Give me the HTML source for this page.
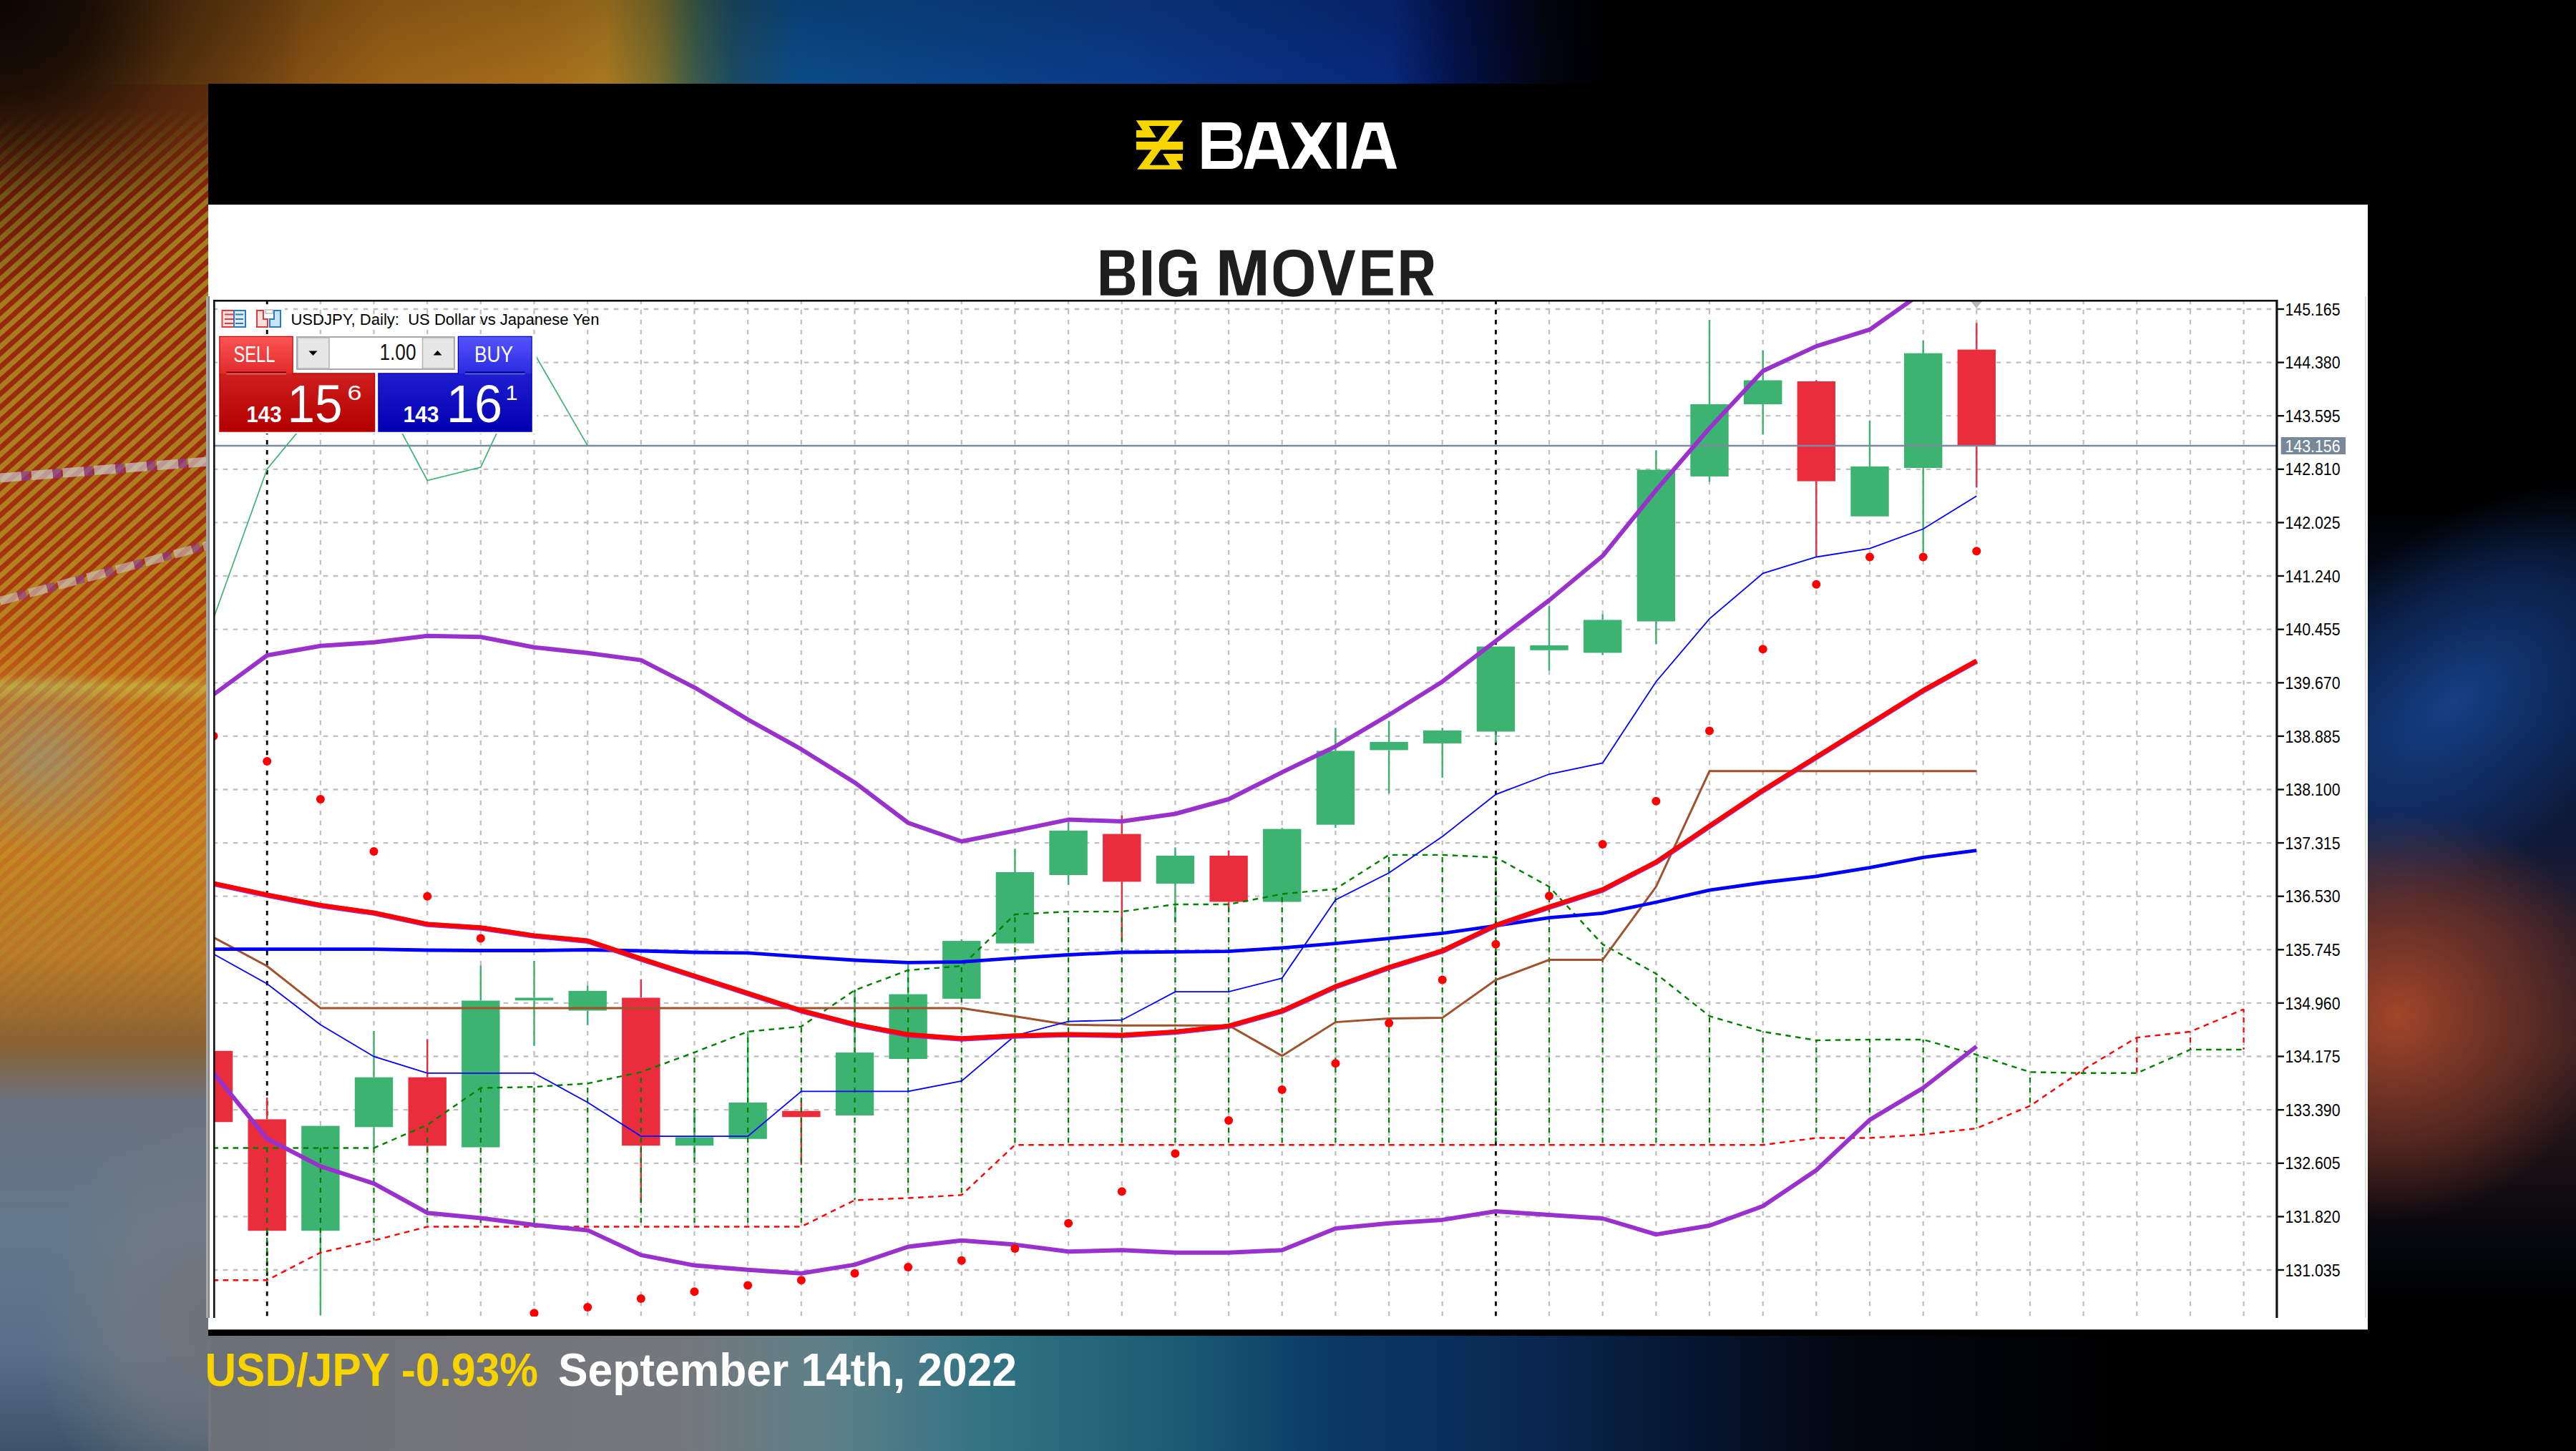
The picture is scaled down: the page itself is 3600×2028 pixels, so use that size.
<!DOCTYPE html>
<html><head><meta charset="utf-8"><title>BIG MOVER USD/JPY</title>
<style>
html,body{margin:0;padding:0;width:3600px;height:2028px;overflow:hidden;background:#000;}

#bg{position:absolute;left:0;top:0;width:3600px;height:2028px;overflow:hidden;background:#000;}
#bg div{position:absolute;}

svg text{font-family:"Liberation Sans",sans-serif;}
</style></head>
<body>
<div id="bg"></div>
<svg width="3600" height="2028" viewBox="0 0 3600 2028" style="position:absolute;left:0;top:0">
<defs>
<linearGradient id="bgL" gradientUnits="userSpaceOnUse" x1="0" y1="0" x2="0" y2="2028"><stop offset="0" stop-color="#6a3410"/><stop offset="0.13" stop-color="#7a3810"/><stop offset="0.25" stop-color="#904214"/><stop offset="0.36" stop-color="#a45018"/><stop offset="0.42" stop-color="#b86418"/><stop offset="0.465" stop-color="#c8741c"/><stop offset="0.473" stop-color="#c8b040"/><stop offset="0.485" stop-color="#c87c22"/><stop offset="0.58" stop-color="#c88424"/><stop offset="0.66" stop-color="#b87c2a"/><stop offset="0.72" stop-color="#8a6232"/><stop offset="0.76" stop-color="#6a7280"/><stop offset="0.85" stop-color="#62788c"/><stop offset="0.93" stop-color="#587088"/><stop offset="1" stop-color="#3c546a"/></linearGradient>
<radialGradient id="bgDark" gradientUnits="userSpaceOnUse" cx="0" cy="0" r="430"><stop offset="0" stop-color="#080402" stop-opacity="0.95"/><stop offset="0.3" stop-color="#080402" stop-opacity="0.8"/><stop offset="0.6" stop-color="#080402" stop-opacity="0.35"/><stop offset="1" stop-color="#080402" stop-opacity="0"/></radialGradient>
<pattern id="stripes" patternUnits="userSpaceOnUse" width="14" height="14" patternTransform="rotate(-42)"><rect x="0" y="0" width="14" height="7" fill="#a01a08"/><rect x="0" y="7" width="14" height="7" fill="#b8a428"/></pattern>
<linearGradient id="stripeMaskG" gradientUnits="userSpaceOnUse" x1="0" y1="150" x2="0" y2="1450"><stop offset="0" stop-color="#fff" stop-opacity="0"/><stop offset="0.1" stop-color="#fff" stop-opacity="0.65"/><stop offset="0.5" stop-color="#fff" stop-opacity="0.55"/><stop offset="0.62" stop-color="#fff" stop-opacity="0.25"/><stop offset="1" stop-color="#fff" stop-opacity="0"/></linearGradient>
<mask id="stripeMask" maskUnits="userSpaceOnUse" x="0" y="0" width="291" height="2028"><rect x="0" y="150" width="291" height="1300" fill="url(#stripeMaskG)"/></mask>
<linearGradient id="bgT" gradientUnits="userSpaceOnUse" x1="0" y1="0" x2="3600" y2="0"><stop offset="0" stop-color="#6a3810"/><stop offset="0.11" stop-color="#7e4c12"/><stop offset="0.15" stop-color="#986016"/><stop offset="0.21" stop-color="#a46c1a"/><stop offset="0.235" stop-color="#a87820"/><stop offset="0.255" stop-color="#7a6c2c"/><stop offset="0.27" stop-color="#3a5a4a"/><stop offset="0.285" stop-color="#1a4a64"/><stop offset="0.31" stop-color="#0a4a86"/><stop offset="0.44" stop-color="#0a3a88"/><stop offset="0.54" stop-color="#08287a"/><stop offset="0.565" stop-color="#03124a"/><stop offset="0.60" stop-color="#02040f"/><stop offset="0.625" stop-color="#000"/></linearGradient>
<linearGradient id="bgTdark" gradientUnits="userSpaceOnUse" x1="0" y1="0" x2="0" y2="117"><stop offset="0" stop-color="#000" stop-opacity="0.15"/><stop offset="1" stop-color="#000" stop-opacity="0"/></linearGradient>
<linearGradient id="bgB" gradientUnits="userSpaceOnUse" x1="0" y1="0" x2="3600" y2="0"><stop offset="0" stop-color="#64707a"/><stop offset="0.08" stop-color="#6a7076"/><stop offset="0.12" stop-color="#6e7278"/><stop offset="0.19" stop-color="#74747a"/><stop offset="0.265" stop-color="#74787c"/><stop offset="0.32" stop-color="#5e8088"/><stop offset="0.39" stop-color="#2e7282"/><stop offset="0.46" stop-color="#1a5a72"/><stop offset="0.515" stop-color="#0a3a66"/><stop offset="0.585" stop-color="#0a2a55"/><stop offset="0.64" stop-color="#061a38"/><stop offset="0.72" stop-color="#03060f"/><stop offset="0.83" stop-color="#000"/></linearGradient>
<linearGradient id="bgR" gradientUnits="userSpaceOnUse" x1="0" y1="0" x2="0" y2="2028"><stop offset="0" stop-color="#000"/><stop offset="0.35" stop-color="#000"/><stop offset="0.40" stop-color="#040a18"/><stop offset="0.5" stop-color="#081a3a"/><stop offset="0.58" stop-color="#101a38"/><stop offset="0.64" stop-color="#2a1c28"/><stop offset="0.72" stop-color="#341e20"/><stop offset="0.8" stop-color="#1a1014"/><stop offset="0.86" stop-color="#04060c"/><stop offset="0.9" stop-color="#000"/></linearGradient>
<radialGradient id="bgRo" gradientUnits="userSpaceOnUse" cx="3350" cy="1420" r="300" gradientTransform="translate(3350 1420) rotate(-25) scale(1.0 0.95) translate(-3350 -1420)"><stop offset="0" stop-color="#b04a2a" stop-opacity="0.9"/><stop offset="0.6" stop-color="#8a3c28" stop-opacity="0.5"/><stop offset="1" stop-color="#8a3c28" stop-opacity="0"/></radialGradient>
<radialGradient id="bgRb" gradientUnits="userSpaceOnUse" cx="3430" cy="980" r="300" gradientTransform="translate(3430 980) rotate(-40) scale(1.3 0.75) translate(-3430 -980)"><stop offset="0" stop-color="#1a4a9a" stop-opacity="0.8"/><stop offset="0.6" stop-color="#123a80" stop-opacity="0.45"/><stop offset="1" stop-color="#123a80" stop-opacity="0"/></radialGradient>
</defs>
<rect x="0" y="0" width="3600" height="2028" fill="#000"/>
<rect x="0" y="0" width="295" height="2028" fill="url(#bgL)"/>
<rect x="0" y="0" width="295" height="1500" fill="url(#stripes)" mask="url(#stripeMask)"/>
<rect x="0" y="0" width="3600" height="118" fill="url(#bgT)"/>
<rect x="0" y="0" width="3600" height="118" fill="url(#bgTdark)"/>
<rect x="0" y="0" width="700" height="500" fill="url(#bgDark)"/>
<rect x="291" y="1860" width="3309" height="168" fill="url(#bgB)"/>
<rect x="3300" y="0" width="300" height="2028" fill="url(#bgR)"/>
<rect x="3300" y="600" width="300" height="1300" fill="url(#bgRb)"/>
<rect x="3300" y="600" width="300" height="1300" fill="url(#bgRo)"/>
<defs><radialGradient id="gp1" gradientUnits="userSpaceOnUse" cx="60" cy="1060" r="140"><stop offset="0" stop-color="#8a9a92" stop-opacity="0.55"/><stop offset="1" stop-color="#8a9a92" stop-opacity="0"/></radialGradient><radialGradient id="gp2" gradientUnits="userSpaceOnUse" cx="291" cy="1850" r="300" gradientTransform="translate(291 1850) scale(0.8 1.0) translate(-291 -1850)"><stop offset="0" stop-color="#6c7278" stop-opacity="0.95"/><stop offset="0.5" stop-color="#7a7c80" stop-opacity="0.55"/><stop offset="1" stop-color="#7a7c80" stop-opacity="0"/></radialGradient></defs>
<rect x="0" y="900" width="295" height="320" fill="url(#gp1)"/>
<rect x="0" y="1500" width="295" height="528" fill="url(#gp2)"/>
<path d="M0 668 L291 645" stroke="#d0d0dc" stroke-width="13" stroke-dasharray="30 14" opacity="0.65"/>
<path d="M0 668 L291 645" stroke="#8a3aa8" stroke-width="13" stroke-dasharray="12 32" stroke-dashoffset="-30" opacity="0.65"/>
<path d="M0 840 L291 762" stroke="#d0d0dc" stroke-width="12" stroke-dasharray="26 16" opacity="0.55"/>
<path d="M0 840 L291 762" stroke="#8a3aa8" stroke-width="12" stroke-dasharray="12 30" stroke-dashoffset="-26" opacity="0.55"/>
<rect x="291" y="117" width="3018" height="169" fill="#000"/>
<rect x="291" y="286" width="3018" height="1572.5" fill="#fff"/>
<rect x="291" y="1858.5" width="3018" height="8.5" fill="#000"/>
<rect x="288" y="414" width="3" height="1428" fill="#a8a8a8"/>
<rect x="291" y="414" width="2" height="1428" fill="#808080"/>
<rect x="3305" y="414" width="2" height="1428" fill="#e0e0e0"/>
<g transform="translate(1580,160) scale(0.058565)" fill="#f7d600">
<path d="M130,140 L1250,140 L870,655 L650,655 L925,275 L435,275 L610,550 L135,550 L135,375 L285,375 Z"/>
<rect x="135" y="648" width="1115" height="194"/>
<path d="M505,835 L720,835 L455,1210 L940,1210 L770,940 L1245,940 L1245,1105 L1095,1105 L1230,1310 L155,1310 Z"/>
</g>
<g transform="translate(1675,165) scale(0.058231)" fill="#fff" fill-rule="evenodd">
<path d="M80,105 L740,105 C900,105 1025,200 1025,380 C1025,500 960,600 870,640 C990,690 1060,790 1060,900 C1060,1100 930,1220 760,1220 L80,1220 Z M290,290 L740,290 Q810,290 810,360 L810,480 Q810,550 740,550 L290,550 Z M290,740 L770,740 Q840,740 840,810 L840,960 Q840,1030 770,1030 L290,1030 Z"/>
<path d="M1085,1220 L1410,105 L1855,105 L2180,1220 L1945,1220 L1885,985 L1375,985 L1305,1220 Z M1445,765 L1815,765 L1680,310 L1570,310 Z"/>
</g>
<g transform="translate(1800,165) scale(0.062112)" fill="#fff" fill-rule="evenodd">
<path d="M65,100 L300,100 L510,420 L545,420 L755,100 L990,100 L675,620 L990,1140 L745,1140 L545,820 L510,820 L315,1140 L70,1140 L385,620 Z"/>
<rect x="1100" y="100" width="215" height="1040"/>
<path d="M1420,1140 L1730,100 L2140,100 L2450,1140 L2235,1140 L2170,920 L1695,920 L1635,1140 Z M1755,715 L2110,715 L1990,290 L1880,290 Z"/>
</g>
<g transform="translate(1520,140) scale(0.199840)" fill="#1e1e1e" fill-rule="evenodd">
<path d="M90,1050 H235 Q325,1050 325,1130 Q325,1185 270,1205 Q330,1225 330,1285 Q330,1365 240,1365 H90 Z M150,1095 H238 Q260,1095 260,1117 V1158 Q260,1180 238,1180 H150 Z M150,1228 H245 Q268,1228 268,1250 V1293 Q268,1315 245,1315 H150 Z"/>
<rect x="385" y="1050" width="60" height="315"/>
<path d="M630,1045 C710,1045 755,1090 757,1145 L697,1145 C695,1115 670,1095 630,1095 C590,1095 562,1120 562,1160 L562,1260 C562,1300 590,1322 632,1322 C675,1322 705,1295 705,1255 L705,1240 L635,1240 L635,1195 L762,1195 L762,1365 L705,1365 L705,1335 C690,1360 665,1375 625,1375 C550,1375 500,1330 500,1255 L500,1165 C500,1090 550,1045 630,1045 Z"/>
<path d="M925,1365 V1050 H1020 L1083,1300 L1148,1050 H1245 V1365 H1187 V1115 L1122,1365 H1045 L982,1115 V1365 Z"/>
<path d="M1440,1045 C1530,1045 1580,1100 1580,1180 V1240 C1580,1320 1530,1375 1440,1375 C1350,1375 1300,1320 1300,1240 V1180 C1300,1100 1350,1045 1440,1045 Z M1440,1095 C1390,1095 1360,1125 1360,1170 V1250 C1360,1295 1390,1322 1440,1322 C1490,1322 1518,1295 1518,1250 V1170 C1518,1125 1490,1095 1440,1095 Z"/>
<path d="M1610,1050 H1675 L1742,1295 L1810,1050 H1872 L1775,1365 H1708 Z"/>
<path d="M1920,1050 H2135 V1100 H1978 V1180 H2112 V1230 H1978 V1315 H2135 V1365 H1920 Z"/>
<path d="M2190,1050 H2330 Q2418,1050 2418,1145 Q2418,1220 2350,1240 L2420,1365 H2352 L2290,1245 H2250 V1365 H2190 Z M2250,1100 H2322 Q2355,1100 2355,1133 V1162 Q2355,1195 2322,1195 H2250 Z"/>
</g>
<defs><clipPath id="ca"><rect x="300.0" y="420.0" width="2881.0" height="1420.0"/></clipPath></defs>
<g clip-path="url(#ca)">
<path d="M300.0 432.0H3181.0 M300.0 506.6H3181.0 M300.0 581.2H3181.0 M300.0 655.8H3181.0 M300.0 730.4H3181.0 M300.0 805.0H3181.0 M300.0 879.7H3181.0 M300.0 954.3H3181.0 M300.0 1028.9H3181.0 M300.0 1103.5H3181.0 M300.0 1178.1H3181.0 M300.0 1252.7H3181.0 M300.0 1327.3H3181.0 M300.0 1401.9H3181.0 M300.0 1476.5H3181.0 M300.0 1551.2H3181.0 M300.0 1625.8H3181.0 M300.0 1700.4H3181.0 M300.0 1775.0H3181.0" stroke="#c0c0c0" stroke-width="2.3" stroke-dasharray="6.6 7.4" stroke-dashoffset="2.3" fill="none"/>
<path d="M373.2 420.0V1840.0 M447.9 420.0V1840.0 M522.5 420.0V1840.0 M597.2 420.0V1840.0 M671.8 420.0V1840.0 M746.5 420.0V1840.0 M821.2 420.0V1840.0 M895.8 420.0V1840.0 M970.5 420.0V1840.0 M1045.1 420.0V1840.0 M1119.8 420.0V1840.0 M1194.5 420.0V1840.0 M1269.1 420.0V1840.0 M1343.8 420.0V1840.0 M1418.4 420.0V1840.0 M1493.1 420.0V1840.0 M1567.8 420.0V1840.0 M1642.4 420.0V1840.0 M1717.1 420.0V1840.0 M1791.7 420.0V1840.0 M1866.4 420.0V1840.0 M1941.1 420.0V1840.0 M2015.7 420.0V1840.0 M2090.4 420.0V1840.0 M2165.0 420.0V1840.0 M2239.7 420.0V1840.0 M2314.4 420.0V1840.0 M2389.0 420.0V1840.0 M2463.7 420.0V1840.0 M2538.3 420.0V1840.0 M2613.0 420.0V1840.0 M2687.7 420.0V1840.0 M2762.3 420.0V1840.0 M2837.0 420.0V1840.0 M2911.6 420.0V1840.0 M2986.3 420.0V1840.0 M3061.0 420.0V1840.0 M3135.6 420.0V1840.0" stroke="#c0c0c0" stroke-width="2.3" stroke-dasharray="6.2 7.8" stroke-dashoffset="1" fill="none"/>
<path d="M373.2 420.0V1840.0 M2090.4 420.0V1840.0" stroke="#000" stroke-width="2.8" stroke-dasharray="6.2 7.8" stroke-dashoffset="1" fill="none"/>
<rect x="271.8" y="1468.8" width="53.4" height="99.5" fill="#e92d3c"/>
<rect x="372.0" y="1534.0" width="2.4" height="30.4" fill="#e92d3c"/>
<rect x="346.5" y="1564.4" width="53.4" height="155.8" fill="#e92d3c"/>
<rect x="446.7" y="1720.2" width="2.4" height="117.8" fill="#3cb371"/>
<rect x="421.2" y="1573.6" width="53.4" height="146.6" fill="#3cb371"/>
<rect x="521.3" y="1441.0" width="2.4" height="64.7" fill="#3cb371"/>
<rect x="521.3" y="1575.3" width="2.4" height="28.7" fill="#3cb371"/>
<rect x="495.8" y="1505.7" width="53.4" height="69.6" fill="#3cb371"/>
<rect x="596.0" y="1452.3" width="2.4" height="53.4" fill="#e92d3c"/>
<rect x="596.0" y="1601.4" width="2.4" height="9.6" fill="#e92d3c"/>
<rect x="570.5" y="1505.7" width="53.4" height="95.7" fill="#e92d3c"/>
<rect x="670.6" y="1349.3" width="2.4" height="49.2" fill="#3cb371"/>
<rect x="645.1" y="1398.5" width="53.4" height="205.0" fill="#3cb371"/>
<rect x="745.3" y="1343.0" width="2.4" height="51.5" fill="#3cb371"/>
<rect x="745.3" y="1398.3" width="2.4" height="63.5" fill="#3cb371"/>
<rect x="719.8" y="1394.5" width="53.4" height="3.8" fill="#3cb371"/>
<rect x="820.0" y="1377.4" width="2.4" height="7.5" fill="#3cb371"/>
<rect x="820.0" y="1412.5" width="2.4" height="20.0" fill="#3cb371"/>
<rect x="794.5" y="1384.9" width="53.4" height="27.6" fill="#3cb371"/>
<rect x="894.6" y="1368.7" width="2.4" height="25.8" fill="#e92d3c"/>
<rect x="894.6" y="1601.2" width="2.4" height="79.8" fill="#e92d3c"/>
<rect x="869.1" y="1394.5" width="53.4" height="206.7" fill="#e92d3c"/>
<rect x="969.3" y="1552.0" width="2.4" height="37.4" fill="#3cb371"/>
<rect x="969.3" y="1601.2" width="2.4" height="18.8" fill="#3cb371"/>
<rect x="943.8" y="1589.4" width="53.4" height="11.8" fill="#3cb371"/>
<rect x="1043.9" y="1444.0" width="2.4" height="97.0" fill="#3cb371"/>
<rect x="1018.4" y="1541.0" width="53.4" height="50.8" fill="#3cb371"/>
<rect x="1118.6" y="1538.0" width="2.4" height="14.7" fill="#e92d3c"/>
<rect x="1118.6" y="1561.3" width="2.4" height="66.4" fill="#e92d3c"/>
<rect x="1093.1" y="1552.7" width="53.4" height="8.6" fill="#e92d3c"/>
<rect x="1193.3" y="1383.0" width="2.4" height="88.1" fill="#3cb371"/>
<rect x="1167.8" y="1471.1" width="53.4" height="87.9" fill="#3cb371"/>
<rect x="1267.9" y="1348.1" width="2.4" height="41.5" fill="#3cb371"/>
<rect x="1242.4" y="1389.6" width="53.4" height="90.4" fill="#3cb371"/>
<rect x="1342.6" y="1312.8" width="2.4" height="2.3" fill="#3cb371"/>
<rect x="1317.1" y="1315.1" width="53.4" height="80.8" fill="#3cb371"/>
<rect x="1417.2" y="1186.2" width="2.4" height="32.8" fill="#3cb371"/>
<rect x="1391.7" y="1219.0" width="53.4" height="99.6" fill="#3cb371"/>
<rect x="1491.9" y="1148.7" width="2.4" height="12.2" fill="#3cb371"/>
<rect x="1491.9" y="1223.0" width="2.4" height="13.6" fill="#3cb371"/>
<rect x="1466.4" y="1160.9" width="53.4" height="62.1" fill="#3cb371"/>
<rect x="1566.6" y="1139.4" width="2.4" height="26.2" fill="#e92d3c"/>
<rect x="1566.6" y="1232.4" width="2.4" height="82.7" fill="#e92d3c"/>
<rect x="1541.1" y="1165.6" width="53.4" height="66.8" fill="#e92d3c"/>
<rect x="1641.2" y="1184.4" width="2.4" height="11.6" fill="#3cb371"/>
<rect x="1641.2" y="1235.0" width="2.4" height="54.0" fill="#3cb371"/>
<rect x="1615.7" y="1196.0" width="53.4" height="39.0" fill="#3cb371"/>
<rect x="1715.9" y="1188.6" width="2.4" height="7.4" fill="#e92d3c"/>
<rect x="1715.9" y="1260.5" width="2.4" height="13.6" fill="#e92d3c"/>
<rect x="1690.4" y="1196.0" width="53.4" height="64.5" fill="#e92d3c"/>
<rect x="1790.5" y="1157.0" width="2.4" height="1.6" fill="#3cb371"/>
<rect x="1765.0" y="1158.6" width="53.4" height="101.9" fill="#3cb371"/>
<rect x="1865.2" y="1017.3" width="2.4" height="32.1" fill="#3cb371"/>
<rect x="1865.2" y="1152.7" width="2.4" height="4.3" fill="#3cb371"/>
<rect x="1839.7" y="1049.4" width="53.4" height="103.3" fill="#3cb371"/>
<rect x="1939.9" y="1008.0" width="2.4" height="29.0" fill="#3cb371"/>
<rect x="1939.9" y="1048.4" width="2.4" height="60.4" fill="#3cb371"/>
<rect x="1914.4" y="1037.0" width="53.4" height="11.4" fill="#3cb371"/>
<rect x="2014.5" y="1017.3" width="2.4" height="3.7" fill="#3cb371"/>
<rect x="2014.5" y="1039.0" width="2.4" height="48.0" fill="#3cb371"/>
<rect x="1989.0" y="1021.0" width="53.4" height="18.0" fill="#3cb371"/>
<rect x="2089.2" y="1022.5" width="2.4" height="15.5" fill="#3cb371"/>
<rect x="2063.7" y="903.6" width="53.4" height="118.9" fill="#3cb371"/>
<rect x="2163.8" y="846.7" width="2.4" height="55.3" fill="#3cb371"/>
<rect x="2163.8" y="908.8" width="2.4" height="28.4" fill="#3cb371"/>
<rect x="2138.3" y="902.0" width="53.4" height="6.8" fill="#3cb371"/>
<rect x="2238.5" y="858.6" width="2.4" height="7.8" fill="#3cb371"/>
<rect x="2238.5" y="912.4" width="2.4" height="3.1" fill="#3cb371"/>
<rect x="2213.0" y="866.4" width="53.4" height="46.0" fill="#3cb371"/>
<rect x="2313.2" y="629.7" width="2.4" height="26.9" fill="#3cb371"/>
<rect x="2313.2" y="868.5" width="2.4" height="31.5" fill="#3cb371"/>
<rect x="2287.7" y="656.6" width="53.4" height="211.9" fill="#3cb371"/>
<rect x="2387.8" y="447.2" width="2.4" height="117.8" fill="#3cb371"/>
<rect x="2387.8" y="665.9" width="2.4" height="7.7" fill="#3cb371"/>
<rect x="2362.3" y="565.0" width="53.4" height="100.9" fill="#3cb371"/>
<rect x="2462.5" y="490.1" width="2.4" height="41.4" fill="#3cb371"/>
<rect x="2462.5" y="565.0" width="2.4" height="42.4" fill="#3cb371"/>
<rect x="2437.0" y="531.5" width="53.4" height="33.5" fill="#3cb371"/>
<rect x="2537.1" y="531.5" width="2.4" height="1.5" fill="#e92d3c"/>
<rect x="2537.1" y="672.6" width="2.4" height="105.4" fill="#e92d3c"/>
<rect x="2511.6" y="533.0" width="53.4" height="139.6" fill="#e92d3c"/>
<rect x="2611.8" y="588.3" width="2.4" height="63.6" fill="#3cb371"/>
<rect x="2586.3" y="651.9" width="53.4" height="69.8" fill="#3cb371"/>
<rect x="2686.5" y="476.2" width="2.4" height="17.5" fill="#3cb371"/>
<rect x="2686.5" y="654.0" width="2.4" height="117.8" fill="#3cb371"/>
<rect x="2661.0" y="493.7" width="53.4" height="160.3" fill="#3cb371"/>
<rect x="2761.1" y="451.3" width="2.4" height="37.3" fill="#e92d3c"/>
<rect x="2761.1" y="623.0" width="2.4" height="58.4" fill="#e92d3c"/>
<rect x="2735.6" y="488.6" width="53.4" height="134.4" fill="#e92d3c"/>
<path d="M298.5 1604.5V1789.3" stroke="#008000" stroke-width="2.2" stroke-dasharray="7 7" stroke-dashoffset="0.40" fill="none"/>
<path d="M373.2 1604.5V1789.3" stroke="#008000" stroke-width="2.2" stroke-dasharray="7 7" stroke-dashoffset="0.40" fill="none"/>
<path d="M447.9 1604.5V1750.7" stroke="#008000" stroke-width="2.2" stroke-dasharray="7 7" stroke-dashoffset="0.40" fill="none"/>
<path d="M522.5 1604.5V1733.8" stroke="#008000" stroke-width="2.2" stroke-dasharray="7 7" stroke-dashoffset="0.40" fill="none"/>
<path d="M597.2 1572.2V1714.5" stroke="#008000" stroke-width="2.2" stroke-dasharray="7 7" stroke-dashoffset="10.10" fill="none"/>
<path d="M671.8 1520.6V1714.5" stroke="#008000" stroke-width="2.2" stroke-dasharray="7 7" stroke-dashoffset="0.50" fill="none"/>
<path d="M746.5 1519.1V1714.5" stroke="#008000" stroke-width="2.2" stroke-dasharray="7 7" stroke-dashoffset="13.00" fill="none"/>
<path d="M821.2 1514.3V1714.5" stroke="#008000" stroke-width="2.2" stroke-dasharray="7 7" stroke-dashoffset="8.20" fill="none"/>
<path d="M895.8 1498.4V1714.5" stroke="#008000" stroke-width="2.2" stroke-dasharray="7 7" stroke-dashoffset="6.30" fill="none"/>
<path d="M970.5 1470.9V1714.5" stroke="#008000" stroke-width="2.2" stroke-dasharray="7 7" stroke-dashoffset="6.80" fill="none"/>
<path d="M1045.1 1441.9V1714.5" stroke="#008000" stroke-width="2.2" stroke-dasharray="7 7" stroke-dashoffset="5.80" fill="none"/>
<path d="M1119.8 1434.7V1714.5" stroke="#008000" stroke-width="2.2" stroke-dasharray="7 7" stroke-dashoffset="12.60" fill="none"/>
<path d="M1194.5 1384.0V1677.4" stroke="#008000" stroke-width="2.2" stroke-dasharray="7 7" stroke-dashoffset="3.90" fill="none"/>
<path d="M1269.1 1356.0V1674.5" stroke="#008000" stroke-width="2.2" stroke-dasharray="7 7" stroke-dashoffset="3.90" fill="none"/>
<path d="M1343.8 1350.2V1670.2" stroke="#008000" stroke-width="2.2" stroke-dasharray="7 7" stroke-dashoffset="12.10" fill="none"/>
<path d="M1418.4 1278.0V1600.2" stroke="#008000" stroke-width="2.2" stroke-dasharray="7 7" stroke-dashoffset="9.90" fill="none"/>
<path d="M1493.1 1274.1V1600.2" stroke="#008000" stroke-width="2.2" stroke-dasharray="7 7" stroke-dashoffset="6.00" fill="none"/>
<path d="M1567.8 1274.1V1600.2" stroke="#008000" stroke-width="2.2" stroke-dasharray="7 7" stroke-dashoffset="6.00" fill="none"/>
<path d="M1642.4 1264.0V1600.2" stroke="#008000" stroke-width="2.2" stroke-dasharray="7 7" stroke-dashoffset="9.90" fill="none"/>
<path d="M1717.1 1264.0V1600.2" stroke="#008000" stroke-width="2.2" stroke-dasharray="7 7" stroke-dashoffset="9.90" fill="none"/>
<path d="M1791.7 1249.5V1600.2" stroke="#008000" stroke-width="2.2" stroke-dasharray="7 7" stroke-dashoffset="9.40" fill="none"/>
<path d="M1866.4 1242.5V1600.2" stroke="#008000" stroke-width="2.2" stroke-dasharray="7 7" stroke-dashoffset="2.40" fill="none"/>
<path d="M1941.1 1194.9V1600.2" stroke="#008000" stroke-width="2.2" stroke-dasharray="7 7" stroke-dashoffset="10.80" fill="none"/>
<path d="M2015.7 1194.9V1600.2" stroke="#008000" stroke-width="2.2" stroke-dasharray="7 7" stroke-dashoffset="10.80" fill="none"/>
<path d="M2090.4 1198.3V1600.2" stroke="#008000" stroke-width="2.2" stroke-dasharray="7 7" stroke-dashoffset="0.20" fill="none"/>
<path d="M2165.0 1239.3V1600.2" stroke="#008000" stroke-width="2.2" stroke-dasharray="7 7" stroke-dashoffset="13.20" fill="none"/>
<path d="M2239.7 1319.8V1600.2" stroke="#008000" stroke-width="2.2" stroke-dasharray="7 7" stroke-dashoffset="9.70" fill="none"/>
<path d="M2314.4 1360.9V1600.2" stroke="#008000" stroke-width="2.2" stroke-dasharray="7 7" stroke-dashoffset="8.80" fill="none"/>
<path d="M2389.0 1420.2V1600.2" stroke="#008000" stroke-width="2.2" stroke-dasharray="7 7" stroke-dashoffset="12.10" fill="none"/>
<path d="M2463.7 1441.9V1600.2" stroke="#008000" stroke-width="2.2" stroke-dasharray="7 7" stroke-dashoffset="5.80" fill="none"/>
<path d="M2538.3 1454.0V1590.5" stroke="#008000" stroke-width="2.2" stroke-dasharray="7 7" stroke-dashoffset="3.90" fill="none"/>
<path d="M2613.0 1453.0V1590.5" stroke="#008000" stroke-width="2.2" stroke-dasharray="7 7" stroke-dashoffset="2.90" fill="none"/>
<path d="M2687.7 1453.0V1585.7" stroke="#008000" stroke-width="2.2" stroke-dasharray="7 7" stroke-dashoffset="2.90" fill="none"/>
<path d="M2762.3 1474.2V1577.0" stroke="#008000" stroke-width="2.2" stroke-dasharray="7 7" stroke-dashoffset="10.10" fill="none"/>
<path d="M2837.0 1498.4V1545.7" stroke="#008000" stroke-width="2.2" stroke-dasharray="7 7" stroke-dashoffset="6.30" fill="none"/>
<path d="M2911.6 1495.0V1499.8" stroke="#ff0000" stroke-width="2.2" stroke-dasharray="7 7" stroke-dashoffset="2.90" fill="none"/>
<path d="M2986.3 1450.1V1499.8" stroke="#ff0000" stroke-width="2.2" stroke-dasharray="7 7" stroke-dashoffset="14.00" fill="none"/>
<path d="M3061.0 1441.9V1467.0" stroke="#ff0000" stroke-width="2.2" stroke-dasharray="7 7" stroke-dashoffset="5.80" fill="none"/>
<path d="M3135.6 1410.6V1467.0" stroke="#ff0000" stroke-width="2.2" stroke-dasharray="7 7" stroke-dashoffset="2.50" fill="none"/>
<polyline points="298.5,1604.5 373.2,1604.5 447.9,1604.5 522.5,1604.5 597.2,1572.2 671.8,1520.6 746.5,1519.1 821.2,1514.3 895.8,1498.4 970.5,1470.9 1045.1,1441.9 1119.8,1434.7 1194.5,1384.0 1269.1,1356.0 1343.8,1350.2 1418.4,1278.0 1493.1,1274.1 1567.8,1274.1 1642.4,1264.0 1717.1,1264.0 1791.7,1249.5 1866.4,1242.5 1941.1,1194.9 2015.7,1194.9 2090.4,1198.3 2165.0,1239.3 2239.7,1319.8 2314.4,1360.9 2389.0,1420.2 2463.7,1441.9 2538.3,1454.0 2613.0,1453.0 2687.7,1453.0 2762.3,1474.2 2837.0,1498.4 2911.6,1499.8 2986.3,1499.8 3061.0,1467.0 3135.6,1467.0" stroke="#008000" stroke-width="2.4" stroke-dasharray="7.5 6.5" stroke-dashoffset="0.9" fill="none"/>
<polyline points="298.5,1789.3 373.2,1789.3 447.9,1750.7 522.5,1733.8 597.2,1714.5 671.8,1714.5 746.5,1714.5 821.2,1714.5 895.8,1714.5 970.5,1714.5 1045.1,1714.5 1119.8,1714.5 1194.5,1677.4 1269.1,1674.5 1343.8,1670.2 1418.4,1600.2 1493.1,1600.2 1567.8,1600.2 1642.4,1600.2 1717.1,1600.2 1791.7,1600.2 1866.4,1600.2 1941.1,1600.2 2015.7,1600.2 2090.4,1600.2 2165.0,1600.2 2239.7,1600.2 2314.4,1600.2 2389.0,1600.2 2463.7,1600.2 2538.3,1590.5 2613.0,1590.5 2687.7,1585.7 2762.3,1577.0 2837.0,1545.7 2911.6,1495.0 2986.3,1450.1 3061.0,1441.9 3135.6,1410.6" stroke="#ff0000" stroke-width="2.4" stroke-dasharray="7.5 6.5" stroke-dashoffset="0.9" fill="none"/>
<path d="M300.0 623H3181.0" stroke="#7a899c" stroke-width="2.6"/>
<polyline points="298.5,864.0 373.2,655.6 447.9,565.0 522.5,531.5 597.2,671.5 671.8,653.0 746.5,493.7 821.2,622.9" stroke="#3cb371" stroke-width="1.7" fill="none"/>
<polyline points="298.5,1310.2 373.2,1350.2 447.9,1409.1 522.5,1409.1 597.2,1409.1 671.8,1409.1 746.5,1409.1 821.2,1409.1 895.8,1409.1 970.5,1409.1 1045.1,1409.1 1119.8,1409.1 1194.5,1409.1 1269.1,1409.1 1343.8,1409.1 1418.4,1420.5 1493.1,1432.3 1567.8,1433.3 1642.4,1433.3 1717.1,1433.3 1791.7,1475.7 1866.4,1428.6 1941.1,1423.6 2015.7,1422.6 2090.4,1369.5 2165.0,1341.6 2239.7,1341.6 2314.4,1239.3 2389.0,1077.8 2463.7,1077.8 2538.3,1077.8 2613.0,1077.8 2687.7,1077.8 2762.3,1077.8" stroke="#a0522d" stroke-width="3" fill="none"/>
<polyline points="298.5,1333.4 373.2,1375.0 447.9,1432.3 522.5,1476.7 597.2,1499.8 671.8,1499.8 746.5,1499.8 821.2,1540.8 895.8,1588.1 970.5,1588.1 1045.1,1588.1 1119.8,1525.4 1194.5,1525.4 1269.1,1525.4 1343.8,1510.9 1418.4,1447.5 1493.1,1427.6 1567.8,1425.7 1642.4,1386.1 1717.1,1386.1 1791.7,1367.1 1866.4,1257.7 1941.1,1220.0 2015.7,1169.3 2090.4,1110.4 2165.0,1082.0 2239.7,1066.4 2314.4,952.7 2389.0,864.8 2463.7,801.3 2538.3,778.5 2613.0,766.6 2687.7,739.3 2762.3,693.2" stroke="#0000ff" stroke-width="1.8" fill="none"/>
<polyline points="298.5,1326.6 373.2,1326.6 447.9,1326.6 522.5,1326.6 597.2,1328.0 671.8,1328.5 746.5,1328.5 821.2,1327.5 895.8,1329.0 970.5,1331.0 1045.1,1331.9 1119.8,1337.2 1194.5,1342.0 1269.1,1345.4 1343.8,1344.4 1418.4,1339.2 1493.1,1334.5 1567.8,1331.0 1642.4,1330.3 1717.1,1329.6 1791.7,1324.9 1866.4,1318.6 1941.1,1311.6 2015.7,1304.4 2090.4,1293.8 2165.0,1282.7 2239.7,1276.4 2314.4,1261.0 2389.0,1244.1 2463.7,1233.5 2538.3,1224.8 2613.0,1212.7 2687.7,1198.3 2762.3,1188.6" stroke="#0000ff" stroke-width="4.8" fill="none"/>
<polyline points="298.5,1235.4 373.2,1251.3 447.9,1265.8 522.5,1276.4 597.2,1292.3 671.8,1297.2 746.5,1308.3 821.2,1315.5 895.8,1340.6 970.5,1364.7 1045.1,1388.8 1119.8,1413.0 1194.5,1432.3 1269.1,1446.7 1343.8,1452.2 1418.4,1448.2 1493.1,1446.3 1567.8,1447.5 1642.4,1442.8 1717.1,1434.6 1791.7,1413.5 1866.4,1379.5 1941.1,1352.7 2015.7,1329.5 2090.4,1293.8 2165.0,1268.2 2239.7,1244.1 2314.4,1205.5 2389.0,1155.0 2463.7,1105.2 2538.3,1058.7 2613.0,1012.2 2687.7,965.6 2762.3,924.3" stroke="#9932cc" stroke-width="7" fill="none" stroke-linejoin="round"/>
<polyline points="298.5,1235.4 373.2,1251.3 447.9,1265.8 522.5,1276.4 597.2,1292.3 671.8,1297.2 746.5,1308.3 821.2,1315.5 895.8,1340.6 970.5,1364.7 1045.1,1388.8 1119.8,1413.0 1194.5,1432.3 1269.1,1446.7 1343.8,1452.2 1418.4,1448.2 1493.1,1446.3 1567.8,1447.5 1642.4,1442.8 1717.1,1434.6 1791.7,1413.5 1866.4,1379.5 1941.1,1352.7 2015.7,1329.5 2090.4,1293.8 2165.0,1268.2 2239.7,1244.1 2314.4,1205.5 2389.0,1155.0 2463.7,1105.2 2538.3,1058.7 2613.0,1012.2 2687.7,965.6 2762.3,924.3" stroke="#ff0000" stroke-width="6.2" fill="none" transform="translate(0,-0.8)" stroke-linejoin="round"/>
<polyline points="298.5,970.7 373.2,916.0 447.9,902.7 522.5,897.8 597.2,888.8 671.8,890.3 746.5,904.7 821.2,912.7 895.8,922.6 970.5,960.8 1045.1,1005.6 1119.8,1047.2 1194.5,1093.7 1269.1,1150.0 1343.8,1176.0 1418.4,1161.1 1493.1,1145.6 1567.8,1148.0 1642.4,1137.5 1717.1,1117.0 1791.7,1079.4 1866.4,1043.2 1941.1,999.2 2015.7,952.7 2090.4,895.9 2165.0,839.0 2239.7,777.0 2314.4,685.0 2389.0,598.5 2463.7,518.5 2538.3,483.9 2613.0,460.7 2687.7,408.0 2762.3,370.0" stroke="#9932cc" stroke-width="6" fill="none" stroke-linejoin="round"/>
<polyline points="298.5,1499.8 373.2,1591.5 447.9,1630.1 522.5,1654.2 597.2,1695.2 671.8,1702.5 746.5,1712.1 821.2,1719.4 895.8,1754.1 970.5,1768.6 1045.1,1774.8 1119.8,1779.7 1194.5,1767.6 1269.1,1742.5 1343.8,1733.8 1418.4,1739.6 1493.1,1749.3 1567.8,1747.3 1642.4,1750.7 1717.1,1750.7 1791.7,1747.3 1866.4,1717.0 1941.1,1709.7 2015.7,1704.9 2090.4,1693.0 2165.0,1698.1 2239.7,1703.0 2314.4,1725.4 2389.0,1713.0 2463.7,1685.7 2538.3,1635.5 2613.0,1565.1 2687.7,1520.5 2762.3,1462.5" stroke="#9932cc" stroke-width="6" fill="none" stroke-linejoin="round"/>
<circle cx="298.5" cy="1028.8" r="6" fill="#ff0000"/>
<circle cx="373.2" cy="1064.0" r="6" fill="#ff0000"/>
<circle cx="447.9" cy="1117.0" r="6" fill="#ff0000"/>
<circle cx="522.5" cy="1190.0" r="6" fill="#ff0000"/>
<circle cx="597.2" cy="1252.8" r="6" fill="#ff0000"/>
<circle cx="671.8" cy="1311.6" r="6" fill="#ff0000"/>
<circle cx="746.5" cy="1835.2" r="6" fill="#ff0000"/>
<circle cx="821.2" cy="1827.0" r="6" fill="#ff0000"/>
<circle cx="895.8" cy="1815.0" r="6" fill="#ff0000"/>
<circle cx="970.5" cy="1805.3" r="6" fill="#ff0000"/>
<circle cx="1045.1" cy="1796.6" r="6" fill="#ff0000"/>
<circle cx="1119.8" cy="1789.3" r="6" fill="#ff0000"/>
<circle cx="1194.5" cy="1779.7" r="6" fill="#ff0000"/>
<circle cx="1269.1" cy="1771.0" r="6" fill="#ff0000"/>
<circle cx="1343.8" cy="1761.8" r="6" fill="#ff0000"/>
<circle cx="1418.4" cy="1745.0" r="6" fill="#ff0000"/>
<circle cx="1493.1" cy="1709.7" r="6" fill="#ff0000"/>
<circle cx="1567.8" cy="1665.3" r="6" fill="#ff0000"/>
<circle cx="1642.4" cy="1612.2" r="6" fill="#ff0000"/>
<circle cx="1717.1" cy="1565.9" r="6" fill="#ff0000"/>
<circle cx="1791.7" cy="1523.0" r="6" fill="#ff0000"/>
<circle cx="1866.4" cy="1486.3" r="6" fill="#ff0000"/>
<circle cx="1941.1" cy="1429.9" r="6" fill="#ff0000"/>
<circle cx="2015.7" cy="1369.5" r="6" fill="#ff0000"/>
<circle cx="2090.4" cy="1319.8" r="6" fill="#ff0000"/>
<circle cx="2165.0" cy="1252.3" r="6" fill="#ff0000"/>
<circle cx="2239.7" cy="1180.0" r="6" fill="#ff0000"/>
<circle cx="2314.4" cy="1119.7" r="6" fill="#ff0000"/>
<circle cx="2389.0" cy="1021.5" r="6" fill="#ff0000"/>
<circle cx="2463.7" cy="907.2" r="6" fill="#ff0000"/>
<circle cx="2538.3" cy="816.8" r="6" fill="#ff0000"/>
<circle cx="2613.0" cy="778.5" r="6" fill="#ff0000"/>
<circle cx="2687.7" cy="778.5" r="6" fill="#ff0000"/>
<circle cx="2762.3" cy="770.3" r="6" fill="#ff0000"/>
</g>
<path d="M2754 421 L2770 421 L2762 431 Z" fill="#b8b8b8"/>
<rect x="298" y="419" width="2.6" height="1423" fill="#111"/>
<rect x="298" y="419" width="2885" height="2.6" fill="#111"/>
<rect x="3180.3" y="419" width="3.2" height="1423" fill="#111"/>
<rect x="3181" y="430.8" width="11" height="2.4" fill="#111"/>
<text x="3193.5" y="440.6" font-size="23" textLength="77" lengthAdjust="spacingAndGlyphs" fill="#000">145.165</text>
<rect x="3181" y="505.4" width="11" height="2.4" fill="#111"/>
<text x="3193.5" y="515.2" font-size="23" textLength="77" lengthAdjust="spacingAndGlyphs" fill="#000">144.380</text>
<rect x="3181" y="580.0" width="11" height="2.4" fill="#111"/>
<text x="3193.5" y="589.8" font-size="23" textLength="77" lengthAdjust="spacingAndGlyphs" fill="#000">143.595</text>
<rect x="3181" y="654.6" width="11" height="2.4" fill="#111"/>
<text x="3193.5" y="664.4" font-size="23" textLength="77" lengthAdjust="spacingAndGlyphs" fill="#000">142.810</text>
<rect x="3181" y="729.2" width="11" height="2.4" fill="#111"/>
<text x="3193.5" y="739.0" font-size="23" textLength="77" lengthAdjust="spacingAndGlyphs" fill="#000">142.025</text>
<rect x="3181" y="803.8" width="11" height="2.4" fill="#111"/>
<text x="3193.5" y="813.6" font-size="23" textLength="77" lengthAdjust="spacingAndGlyphs" fill="#000">141.240</text>
<rect x="3181" y="878.5" width="11" height="2.4" fill="#111"/>
<text x="3193.5" y="888.3" font-size="23" textLength="77" lengthAdjust="spacingAndGlyphs" fill="#000">140.455</text>
<rect x="3181" y="953.1" width="11" height="2.4" fill="#111"/>
<text x="3193.5" y="962.9" font-size="23" textLength="77" lengthAdjust="spacingAndGlyphs" fill="#000">139.670</text>
<rect x="3181" y="1027.7" width="11" height="2.4" fill="#111"/>
<text x="3193.5" y="1037.5" font-size="23" textLength="77" lengthAdjust="spacingAndGlyphs" fill="#000">138.885</text>
<rect x="3181" y="1102.3" width="11" height="2.4" fill="#111"/>
<text x="3193.5" y="1112.1" font-size="23" textLength="77" lengthAdjust="spacingAndGlyphs" fill="#000">138.100</text>
<rect x="3181" y="1176.9" width="11" height="2.4" fill="#111"/>
<text x="3193.5" y="1186.7" font-size="23" textLength="77" lengthAdjust="spacingAndGlyphs" fill="#000">137.315</text>
<rect x="3181" y="1251.5" width="11" height="2.4" fill="#111"/>
<text x="3193.5" y="1261.3" font-size="23" textLength="77" lengthAdjust="spacingAndGlyphs" fill="#000">136.530</text>
<rect x="3181" y="1326.1" width="11" height="2.4" fill="#111"/>
<text x="3193.5" y="1335.9" font-size="23" textLength="77" lengthAdjust="spacingAndGlyphs" fill="#000">135.745</text>
<rect x="3181" y="1400.7" width="11" height="2.4" fill="#111"/>
<text x="3193.5" y="1410.5" font-size="23" textLength="77" lengthAdjust="spacingAndGlyphs" fill="#000">134.960</text>
<rect x="3181" y="1475.3" width="11" height="2.4" fill="#111"/>
<text x="3193.5" y="1485.1" font-size="23" textLength="77" lengthAdjust="spacingAndGlyphs" fill="#000">134.175</text>
<rect x="3181" y="1550.0" width="11" height="2.4" fill="#111"/>
<text x="3193.5" y="1559.8" font-size="23" textLength="77" lengthAdjust="spacingAndGlyphs" fill="#000">133.390</text>
<rect x="3181" y="1624.6" width="11" height="2.4" fill="#111"/>
<text x="3193.5" y="1634.4" font-size="23" textLength="77" lengthAdjust="spacingAndGlyphs" fill="#000">132.605</text>
<rect x="3181" y="1699.2" width="11" height="2.4" fill="#111"/>
<text x="3193.5" y="1709.0" font-size="23" textLength="77" lengthAdjust="spacingAndGlyphs" fill="#000">131.820</text>
<rect x="3181" y="1773.8" width="11" height="2.4" fill="#111"/>
<text x="3193.5" y="1783.6" font-size="23" textLength="77" lengthAdjust="spacingAndGlyphs" fill="#000">131.035</text>
<rect x="3187.7" y="611" width="90.3" height="24" fill="#778899"/>
<text x="3193.5" y="631.6" font-size="23" textLength="77" lengthAdjust="spacingAndGlyphs" fill="#fff">143.156</text>
<defs><linearGradient id="gsb" x1="0" y1="0" x2="0" y2="1"><stop offset="0" stop-color="#fb5454"/><stop offset="1" stop-color="#e22a2a"/></linearGradient><linearGradient id="gsp" x1="0" y1="0" x2="0" y2="1"><stop offset="0" stop-color="#e23232"/><stop offset="1" stop-color="#b20000"/></linearGradient><linearGradient id="gbb" x1="0" y1="0" x2="0" y2="1"><stop offset="0" stop-color="#5454fb"/><stop offset="1" stop-color="#2a2ae2"/></linearGradient><linearGradient id="gbp" x1="0" y1="0" x2="0" y2="1"><stop offset="0" stop-color="#3232e2"/><stop offset="1" stop-color="#0000b2"/></linearGradient></defs>
<rect x="306" y="431" width="92" height="30" fill="#fff"/>
<rect x="310.5" y="434" width="20" height="23" fill="#fde0e0" stroke="#e03c3c" stroke-width="2"/>
<rect x="327" y="434" width="16" height="23" fill="#ddeefa" stroke="#2a7ac8" stroke-width="2"/>
<path d="M314 439.5h13M314 446h13M314 452h13" stroke="#e03c3c" stroke-width="2"/>
<path d="M329 439.5h11M329 446h11M329 452h11" stroke="#2a7ac8" stroke-width="2"/>
<path d="M359 434h9v12h6v11h-15z" fill="#fde0e0" stroke="#e03c3c" stroke-width="2"/>
<path d="M386 434h6v23h-15v-11h6v-12z" fill="#c8e4fa" stroke="#2a7ac8" stroke-width="2"/>
<rect x="371" y="433" width="10" height="5" fill="none" stroke="#bbb" stroke-width="1.5"/>
<text x="406.4" y="453.7" font-size="22" textLength="431" lengthAdjust="spacingAndGlyphs" fill="#000" style="white-space:pre">USDJPY, Daily:  US Dollar vs Japanese Yen</text>
<rect x="304" y="467" width="446" height="139" fill="#fff"/>
<path d="M307 470.5H409V522H523.5V603H307Z" fill="url(#gsp)" stroke="#c00000" stroke-width="1.5"/>
<rect x="307.5" y="471" width="101" height="51" fill="url(#gsb)"/>
<rect x="316.5" y="519.5" width="83.5" height="2.2" fill="#7a0000"/>
<rect x="316.5" y="521.7" width="83.5" height="1.6" fill="#ff6a6a"/>
<text x="326.5" y="506.2" font-size="31" textLength="58" lengthAdjust="spacingAndGlyphs" fill="#fff">SELL</text>
<text x="344.5" y="589.7" font-size="30.5" font-weight="bold" textLength="49" lengthAdjust="spacingAndGlyphs" fill="#fff">143</text>
<text x="401.5" y="589.7" font-size="74" textLength="77" lengthAdjust="spacingAndGlyphs" fill="#fff">15</text>
<text x="485.5" y="559.1" font-size="30" textLength="20" lengthAdjust="spacingAndGlyphs" fill="#fff">6</text>
<rect x="415" y="471" width="220" height="45" fill="#fff" stroke="#a8a8a8" stroke-width="2"/>
<rect x="416" y="472" width="44" height="43" fill="#e6e6e6" stroke="#b4b4b4" stroke-width="1.5"/>
<rect x="590.5" y="472" width="44" height="43" fill="#e6e6e6" stroke="#b4b4b4" stroke-width="1.5"/>
<path d="M431.5 490.5h12l-6 6.5z" fill="#000"/>
<path d="M605.5 496.5h12l-6-6.5z" fill="#000"/>
<text x="530.5" y="503" font-size="30.5" textLength="51" lengthAdjust="spacingAndGlyphs" fill="#111">1.00</text>
<path d="M640.5 470.5H743V603H529V522H640.5Z" fill="url(#gbp)" stroke="#0000c0" stroke-width="1.5"/>
<rect x="641" y="471" width="101.5" height="51" fill="url(#gbb)"/>
<rect x="650" y="519.5" width="83.5" height="2.2" fill="#00007a"/>
<rect x="650" y="521.7" width="83.5" height="1.6" fill="#6a6aff"/>
<text x="663" y="505.5" font-size="31" textLength="54" lengthAdjust="spacingAndGlyphs" fill="#fff">BUY</text>
<text x="563.5" y="589.7" font-size="30.5" font-weight="bold" textLength="50" lengthAdjust="spacingAndGlyphs" fill="#fff">143</text>
<text x="624" y="589.7" font-size="74" textLength="78" lengthAdjust="spacingAndGlyphs" fill="#fff">16</text>
<text x="706.5" y="559.1" font-size="30" textLength="17" lengthAdjust="spacingAndGlyphs" fill="#fff">1</text>
<text x="286.5" y="1936.5" font-size="64" font-weight="bold" textLength="465.5" lengthAdjust="spacingAndGlyphs" fill="#f7d300">USD/JPY -0.93%</text>
<text x="780" y="1936.5" font-size="64" font-weight="bold" textLength="641" lengthAdjust="spacingAndGlyphs" fill="#fff">September 14th, 2022</text>
</svg>
</body></html>
